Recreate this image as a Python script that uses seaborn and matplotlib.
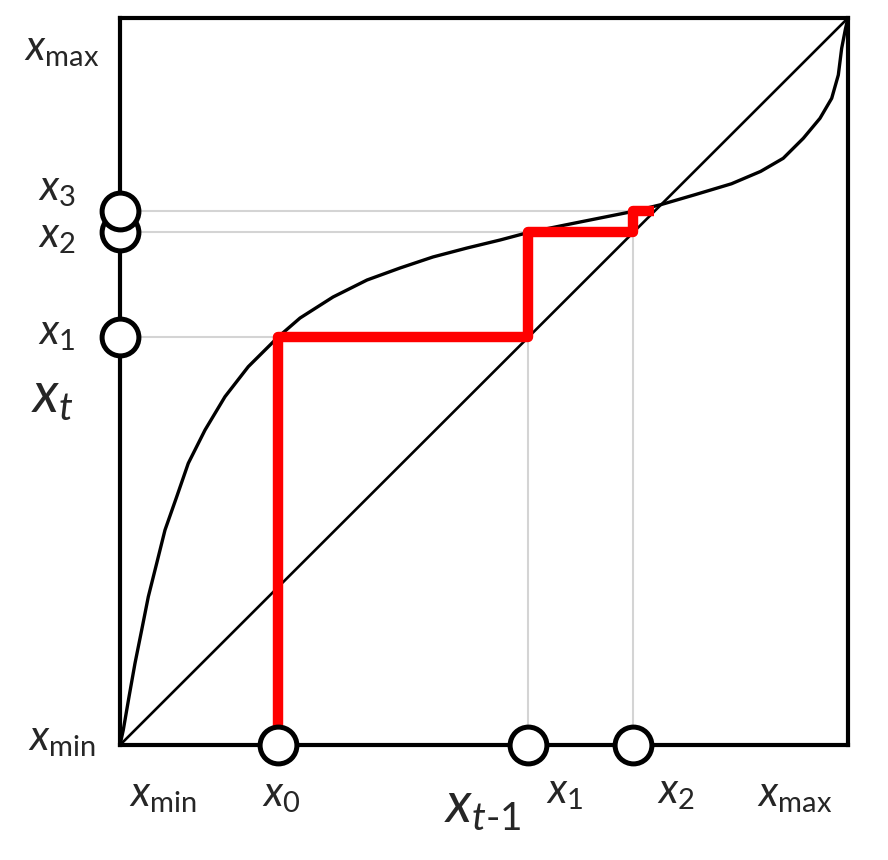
import numpy as np
import pandas as pd
import seaborn as sns
from matplotlib import pyplot as plt

# map curve x_t = f(x_{t-1}) (0 = x_min, 1 = x_max)
curve_x = [0.0, 0.0045, 0.0124, 0.0206, 0.0298, 0.0389, 0.0504, 0.0618, 0.0779, 0.0938,
           0.1168, 0.1442, 0.1762, 0.217, 0.2473, 0.2926, 0.3393, 0.3846, 0.4299, 0.4766,
           0.5220, 0.561, 0.62, 0.66, 0.705, 0.742, 0.79, 0.84, 0.88, 0.911, 0.9386,
           0.9615, 0.9776, 0.9867, 0.9913, 0.9965, 1.0]
curve_y = [0.0, 0.0206, 0.0664, 0.1124, 0.1582, 0.2040, 0.2499, 0.2957, 0.3415, 0.3875,
           0.4333, 0.4791, 0.5204, 0.561, 0.5873, 0.6162, 0.6396, 0.6561, 0.6713, 0.6836,
           0.6946, 0.705, 0.717, 0.725, 0.734, 0.743, 0.757, 0.772, 0.789, 0.807, 0.8345,
           0.862, 0.8895, 0.9216, 0.9583, 0.985, 1.0]

# iterates x0, x1, x2, x3
iterates = [0.217, 0.561, 0.705, 0.734]

sns.set_style("white")
plt.rcParams['mathtext.fontset'] = 'custom'
plt.rcParams['mathtext.it'] = 'Lato:italic'
plt.rcParams['mathtext.rm'] = 'Lato'
plt.rcParams['font.family'] = ['Lato', 'DejaVu Sans']

fig = plt.figure(figsize=(8.88, 8.60), dpi=100)
ax = fig.add_axes([120 / 888, 1 - 745 / 860, 728 / 888, 727 / 860])

curve = pd.DataFrame({"x": curve_x, "y": curve_y})
diag = pd.DataFrame({"x": [0.0, 1.0], "y": [0.0, 1.0]})

# grey guide lines
for a, b in zip(iterates[:-1], iterates[1:]):
    ax.plot([0, a], [b, b], color='#d4d4d4', linewidth=1.5, zorder=1)
for a in iterates[1:3]:
    ax.plot([a, a], [0, a], color='#d4d4d4', linewidth=1.5, zorder=1)

sns.lineplot(data=diag, x="x", y="y", color='black', ax=ax, zorder=2)
ax.lines[-1].set_linewidth(1.9)
sns.lineplot(data=curve, x="x", y="y", color='black', ax=ax, zorder=2,
             sort=False, estimator=None)
ax.lines[-1].set_linewidth(2.4)

# cobweb path
px, py = [iterates[0]], [0.0]
for a, b in zip(iterates[:-1], iterates[1:]):
    px += [a, b]
    py += [b, b]
ax.plot(px, py, color='#ff0000', linewidth=7.5, solid_joinstyle='round',
        solid_capstyle='butt', zorder=3)

# circles on the axes
mk = dict(marker='o', ms=26.5, mfc='white', mec='black', mew=3.6, ls='none',
          clip_on=False, zorder=5)
for a in iterates[1:]:
    ax.plot([0], [a], **mk)
for a in iterates[:3]:
    ax.plot([a], [0], **mk)

ax.set_xlim(0, 1)
ax.set_ylim(0, 1)
ax.set_xticks([])
ax.set_yticks([])
ax.set_xlabel("")
ax.set_ylabel("")
for s in ax.spines.values():
    s.set_color('black')
    s.set_linewidth(3.0)
    s.set_visible(True)


def label(x_px, y_px, s, size=30):
    fig.text(x_px / 888, 1 - y_px / 860, s, ha='center', va='baseline', fontsize=size)


label(62, 60, r'$x_{\mathrm{max}}$')
label(57, 200, r'$x_{\mathrm{3}}$')
label(57, 247, r'$x_{\mathrm{2}}$')
label(57, 344, r'$x_{\mathrm{1}}$')
label(52, 412, r'$x_{t}$', size=40)
label(62, 750, r'$x_{\mathrm{min}}$')

label(163, 806, r'$x_{\mathrm{min}}$')
label(281, 806, r'$x_{\mathrm{0}}$')
label(483, 822, r'$x_{t\text{-}1}$', size=40)
label(565, 803, r'$x_{\mathrm{1}}$')
label(676, 803, r'$x_{\mathrm{2}}$')
label(795, 806, r'$x_{\mathrm{max}}$')

fig.savefig('out.png', dpi=100)
